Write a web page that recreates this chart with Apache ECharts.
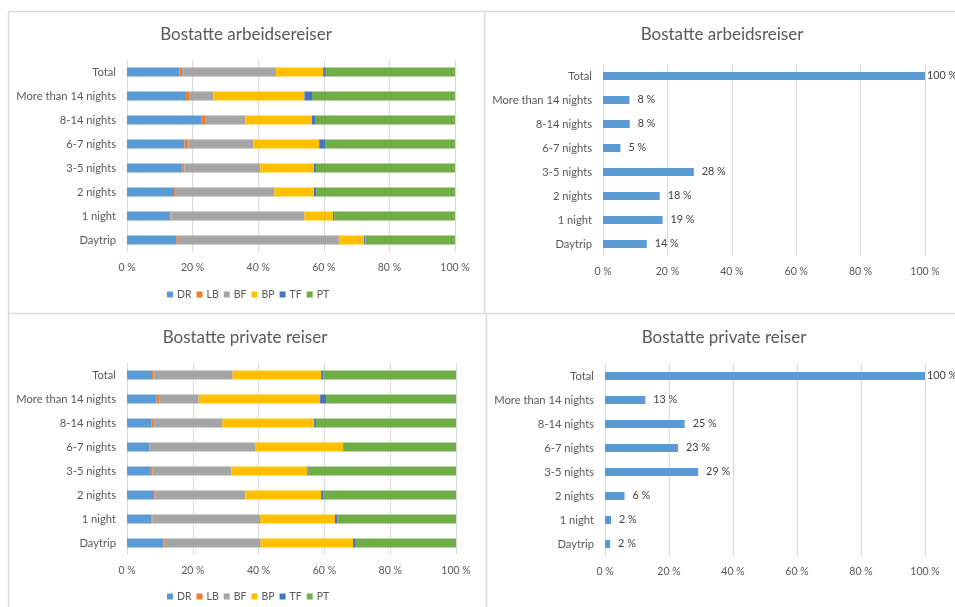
<!DOCTYPE html>
<html>
<head>
<meta charset="utf-8">
<script src="https://cdn.jsdelivr.net/npm/echarts@6/dist/echarts.min.js"></script>
<style>
  html, body { margin: 0; padding: 0; background: #fff; }
  #chart { width: 955px; height: 607px; }
</style>
</head>
<body>
<div id="chart"></div>
<script>
// --- Data (percent), categories listed bottom -> top ---
const categories = ['Daytrip', '1 night', '2 nights', '3-5 nights', '6-7 nights', '8-14 nights', 'More than 14 nights', 'Total'];
const modes = ['DR', 'LB', 'BF', 'BP', 'TF', 'PT'];

// Bostatte arbeidsreiser: mode split per trip length
const workDR = [15.0, 13.3, 14.4, 16.9, 17.5, 22.6, 18.0, 16.0];
const workLB = [0.5, 0.2, 0.5, 0.6, 1.2, 1.2, 1.1, 0.8];
const workBF = [49.1, 40.6, 30.0, 23.1, 19.8, 12.2, 7.3, 28.6];
const workBP = [7.7, 8.7, 12.1, 16.4, 20.1, 20.4, 27.7, 14.4];
const workTF = [0.4, 0.4, 0.7, 0.6, 1.8, 0.9, 2.3, 0.8];
const workPT = [27.3, 36.8, 42.3, 42.4, 39.6, 42.7, 43.6, 39.4];
const workShare = [13.6, 18.5, 17.6, 28.2, 5.4, 8.3, 8.2, 100];

// Bostatte private reiser
const privDR = [11.1, 7.5, 8.3, 7.2, 6.8, 7.5, 9.0, 7.6];
const privLB = [0.4, 0.3, 0.4, 0.6, 0.2, 0.4, 0.8, 0.5];
const privBF = [29.1, 32.7, 27.3, 23.9, 31.9, 21.1, 12.0, 24.0];
const privBP = [28.1, 22.7, 23.0, 23.1, 26.8, 27.9, 36.9, 26.9];
const privTF = [0.6, 0.7, 0.6, 0.4, 0.2, 0.6, 1.8, 0.7];
const privPT = [30.7, 36.1, 40.4, 44.8, 34.1, 42.5, 39.5, 40.3];
const privShare = [1.6, 1.9, 6.1, 29.1, 22.8, 24.9, 12.6, 100];

// --- Styling ---
const FONT = 'Lato';
const TXT = '#595959';
const GRIDC = '#d9d9d9';
const modeColors = ['#5B9BD5', '#ED7D31', '#A5A5A5', '#FFC000', '#4472C4', '#70AD47'];

// grid rectangles (left, top, width, height) in px
const grids = [
  { left: 127, top: 60, width: 328, height: 192 },
  { left: 603, top: 64, width: 322, height: 192 },
  { left: 127, top: 363, width: 329, height: 192 },
  { left: 605, top: 364, width: 320, height: 192 },
];

function xAxisFor(i) {
  return {
    type: 'value', gridIndex: i, min: 0, max: 100, interval: 20,
    axisLine: { show: false }, axisTick: { show: false },
    splitLine: { show: true, lineStyle: { color: GRIDC, width: 1 } },
    axisLabel: { color: TXT, fontFamily: FONT, fontSize: 10.5, margin: 10, formatter: v => v + ' %' },
  };
}
function yAxisFor(i) {
  return {
    type: 'category', gridIndex: i, data: categories,
    axisLine: { show: false }, axisTick: { show: false },
    axisLabel: { color: TXT, fontFamily: FONT, fontSize: 11.2, margin: 11 },
  };
}

const workStack = [workDR, workLB, workBF, workBP, workTF, workPT];
const privStack = [privDR, privLB, privBF, privBP, privTF, privPT];

const series = [];
workStack.forEach((d, k) => series.push({
  name: modes[k], type: 'bar', stack: 'work', xAxisIndex: 0, yAxisIndex: 0,
  barWidth: 9, itemStyle: { color: modeColors[k] }, data: d,
}));
privStack.forEach((d, k) => series.push({
  name: modes[k], type: 'bar', stack: 'priv', xAxisIndex: 2, yAxisIndex: 2,
  barWidth: 9, itemStyle: { color: modeColors[k] }, data: d,
}));
// share bars; the full-width Total label sits tight against its bar
[[workShare, 1], [privShare, 3]].forEach(([d, i]) => series.push({
  name: 'Andel', type: 'bar', xAxisIndex: i, yAxisIndex: i, barWidth: 8,
  itemStyle: { color: '#5B9BD5' },
  data: d.map(v => (v >= 100 ? { value: v, label: { distance: 2 } } : v)),
  label: {
    show: true, position: 'right', distance: 8, color: '#404040',
    fontFamily: FONT, fontSize: 10.8, formatter: p => Math.round(p.value) + ' %',
  },
}));

function legendAt(top) {
  return {
    data: modes, left: 162, top: top, itemWidth: 6, itemHeight: 6, itemGap: 5,
    icon: 'rect', selectedMode: false,
    textStyle: { color: TXT, fontFamily: FONT, fontSize: 10.5, padding: [0, 0, 0, -1] },
  };
}

function title(text, cx, top) {
  return {
    text, left: cx, top, textAlign: 'center',
    textStyle: { color: TXT, fontFamily: FONT, fontSize: 17, fontWeight: 'normal' },
  };
}

// panel borders
const line = (x1, y1, x2, y2) => ({
  type: 'line', shape: { x1, y1, x2, y2 }, silent: true,
  style: { stroke: GRIDC, lineWidth: 1.5 },
});

const chart = echarts.init(document.getElementById('chart'), null, { renderer: 'canvas' });
chart.setOption({
  animation: false,
  title: [
    title('Bostatte arbeidsereiser', 241, 21),
    title('Bostatte arbeidsreiser', 717, 21),
    title('Bostatte private reiser', 240, 324),
    title('Bostatte private reiser', 719, 324),
  ],
  legend: [legendAt(284), legendAt(586)],
  grid: grids,
  xAxis: [0, 1, 2, 3].map(xAxisFor),
  yAxis: [0, 1, 2, 3].map(yAxisFor),
  series,
  graphic: [
    line(8.5, 11.5, 955, 11.5),
    line(8.5, 313.5, 955, 313.5),
    line(8.5, 11.5, 8.5, 607),
    line(484.5, 11.5, 484.5, 313.5),
    line(486.5, 313.5, 486.5, 607),
  ],
});
</script>
</body>
</html>
